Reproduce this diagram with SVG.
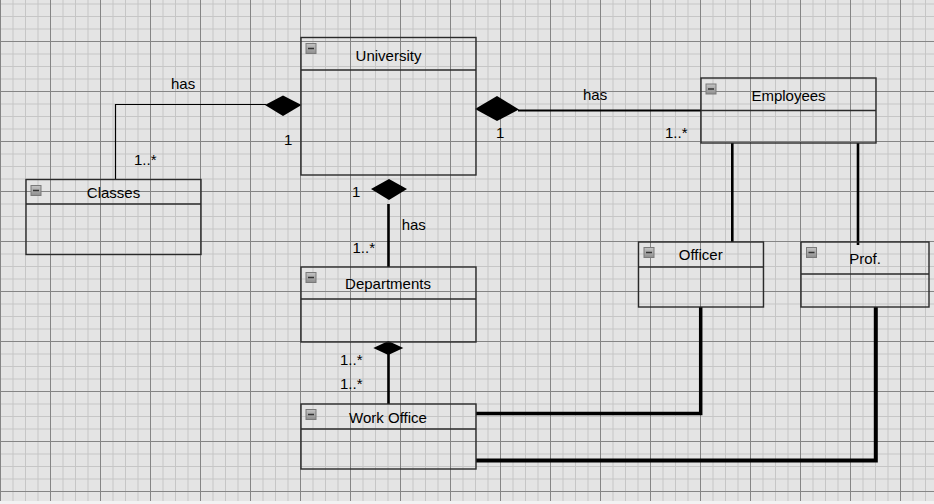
<svg xmlns="http://www.w3.org/2000/svg" width="934" height="504" viewBox="0 0 934 504">
  <defs>
    <pattern id="grid" x="0" y="41" width="50" height="50" patternUnits="userSpaceOnUse">
      <rect width="50" height="50" fill="#e4e4e4"/>
      <path d="M13 0V50M25.5 0V50M38 0V50M0 13H50M0 25.5H50M0 38H50" stroke="#c6c6c6" stroke-width="1" fill="none"/>
      <path d="M0.5 0V50M0 0.5H50" stroke="#858585" stroke-width="1" fill="none"/>
    </pattern>
    <linearGradient id="ic" x1="0" y1="0" x2="0" y2="1">
      <stop offset="0" stop-color="#c4c4c4"/>
      <stop offset="1" stop-color="#8e8e8e"/>
    </linearGradient>
    <g id="icon">
      <rect x="0.5" y="0.5" width="10" height="10" fill="url(#ic)" stroke="#7a7a7a" stroke-width="1"/>
      <path d="M2.5 5.5H8.5" stroke="#333" stroke-width="1.5"/>
    </g>
  </defs>
  <style>
    .box{fill:none;stroke:#2a2a2a;stroke-width:1.4}
    .t{font-family:"Liberation Sans",Arial,sans-serif;font-size:15px;fill:#000}
    .c{text-anchor:middle}
    .ln{fill:none;stroke:#000}
    .dm{fill:#000;stroke:none}
  </style>
  <rect width="934" height="504" fill="url(#grid)"/>
  <rect x="0" y="501" width="934" height="3" fill="#f2f2f2"/>

  <g id="connectors">
    <path class="ln" d="M115.5 179V104.5H266" stroke-width="1.2"/>
    <polygon class="dm" points="265,105 283,95.5 301.5,105 283,116"/>
    <path class="ln" d="M518 110.5H701" stroke-width="2.2"/>
    <polygon class="dm" points="475,109 497,96 519,109.5 497,121"/>
    <polygon class="dm" points="371,189 389,179 407,189 389,200"/>
    <path class="ln" d="M388.5 204V267" stroke-width="2.6"/>
    <polygon class="dm" points="373.3,348 388.3,341 403.3,348 388.3,355"/>
    <path class="ln" d="M388.5 354V404" stroke-width="2.6"/>
    <path class="ln" d="M732.3 143V242" stroke-width="2.6"/>
    <path class="ln" d="M858 143V245" stroke-width="2.6"/>
    <path class="ln" d="M476 413.5H700.7V307" stroke-width="3.5"/>
    <path class="ln" d="M476 460.5H875.8V307" stroke-width="4"/>
    <text class="t" x="171" y="89">has</text>
    <text class="t" x="284" y="144.5">1</text>
    <text class="t" x="134" y="165">1..*</text>
    <text class="t" x="583" y="100">has</text>
    <text class="t" x="496" y="138.3">1</text>
    <text class="t" x="665" y="138">1..*</text>
    <text class="t" x="352" y="197.3">1</text>
    <text class="t" x="401.7" y="230">has</text>
    <text class="t" x="352.5" y="252.7">1..*</text>
    <text class="t" x="340" y="365">1..*</text>
    <text class="t" x="340" y="389.3">1..*</text>
  </g>

  <g id="university">
    <rect class="box" x="301" y="37.5" width="175" height="137.5"/>
    <path class="box" d="M301 70H476"/>
    <use href="#icon" x="305.5" y="43"/>
    <text class="t c" x="388.5" y="60.5">University</text>
  </g>
  <g id="classes">
    <rect class="box" x="26" y="179.5" width="175" height="75"/>
    <path class="box" d="M26 204H201"/>
    <use href="#icon" x="30.5" y="185"/>
    <text class="t c" x="113.5" y="197.5">Classes</text>
  </g>
  <g id="employees">
    <rect class="box" x="701" y="78" width="175" height="65"/>
    <path class="box" d="M701 110.5H876"/>
    <use href="#icon" x="705.5" y="83.5"/>
    <text class="t c" x="788.5" y="100.5">Employees</text>
  </g>
  <g id="departments">
    <rect class="box" x="301" y="267" width="175" height="75"/>
    <path class="box" d="M301 299H476"/>
    <use href="#icon" x="305.5" y="272"/>
    <text class="t c" x="388" y="289">Departments</text>
  </g>
  <g id="workoffice">
    <rect class="box" x="301" y="404" width="175" height="65"/>
    <path class="box" d="M301 429H476"/>
    <use href="#icon" x="305.5" y="409"/>
    <text class="t c" x="388" y="422.5">Work Office</text>
  </g>
  <g id="officer">
    <rect class="box" x="638.5" y="242" width="125" height="65"/>
    <path class="box" d="M638.5 267H763.5"/>
    <use href="#icon" x="643.5" y="247"/>
    <text class="t c" x="700.7" y="260">Officer</text>
  </g>
  <g id="prof">
    <rect class="box" x="801" y="242" width="128" height="65"/>
    <path class="box" d="M801 274H929"/>
    <use href="#icon" x="806" y="247"/>
    <text class="t c" x="865" y="264.3">Prof.</text>
  </g>
</svg>
